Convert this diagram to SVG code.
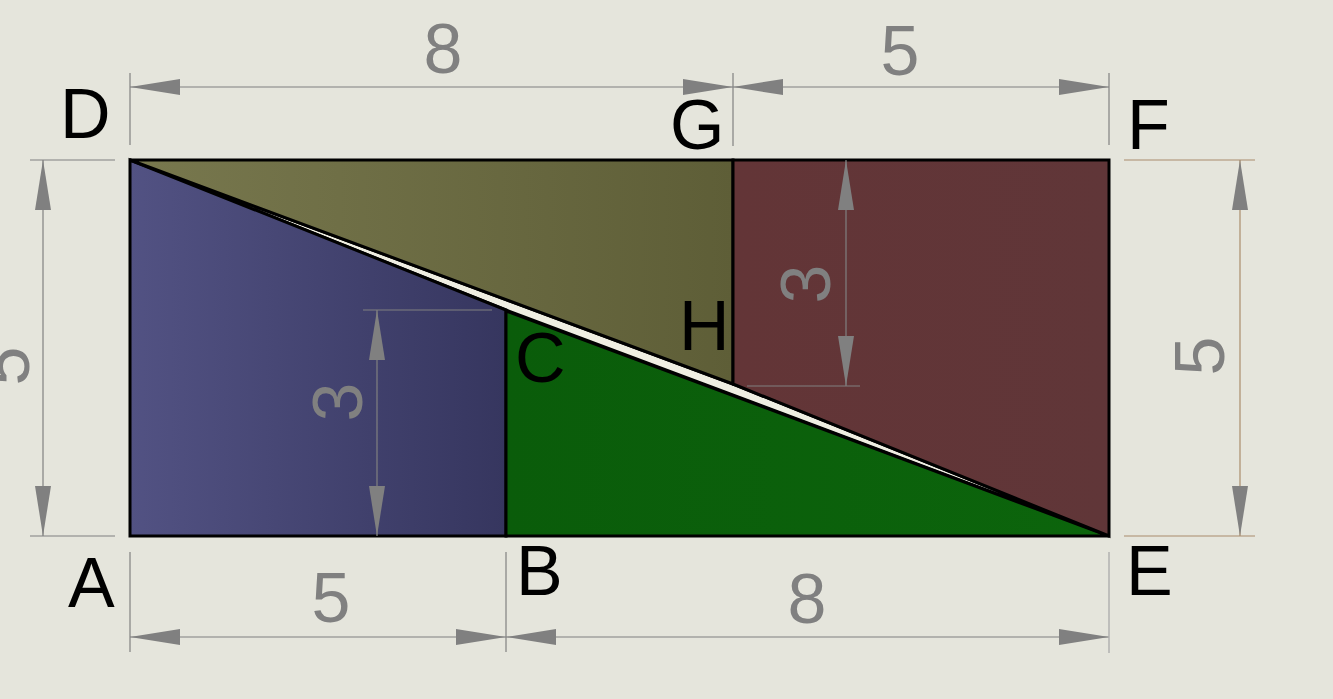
<svg xmlns="http://www.w3.org/2000/svg" width="1333" height="699" viewBox="0 0 1333 699">
<defs>
<linearGradient id="gBlue" x1="130" y1="0" x2="506" y2="0" gradientUnits="userSpaceOnUse"><stop offset="0" stop-color="#525283"/><stop offset="1" stop-color="#36365f"/></linearGradient>
<linearGradient id="gOlive" x1="130" y1="0" x2="733" y2="0" gradientUnits="userSpaceOnUse"><stop offset="0" stop-color="#78784e"/><stop offset="1" stop-color="#5e5e37"/></linearGradient>
<linearGradient id="gGreen" x1="506" y1="0" x2="1109" y2="0" gradientUnits="userSpaceOnUse"><stop offset="0" stop-color="#0a5c0a"/><stop offset="1" stop-color="#0c650c"/></linearGradient>
<linearGradient id="gRed" x1="733" y1="0" x2="1109" y2="0" gradientUnits="userSpaceOnUse"><stop offset="0" stop-color="#633537"/><stop offset="1" stop-color="#603638"/></linearGradient>
</defs>
<style>
.edge{stroke:#000;stroke-width:3;stroke-linejoin:miter}
.ext{stroke:#808080;stroke-width:1.2;fill:none}
.tan{stroke:#a98c6c;stroke-width:1.2;fill:none}
.ah{fill:#808080}
.lbl{font-family:"Liberation Sans",Arial,sans-serif;font-size:70px;fill:#000}
.num{font-family:"Liberation Sans",Arial,sans-serif;font-size:70px;fill:#808080;text-anchor:middle}
</style>
<rect width="1333" height="699" fill="#e5e5dc"/>

<g id="gap"><polygon points="130,160 733,384 1109,536 506,310" fill="#efeee2" class="edge"/></g>
<g id="blue"><polygon points="130,160 506,310 506,536 130,536" fill="url(#gBlue)" class="edge"/></g>
<g id="green"><polygon points="506,311 1109,536 506,536" fill="url(#gGreen)" class="edge"/></g>
<g id="olive"><polygon points="130,160 733,160 733,384" fill="url(#gOlive)" class="edge"/></g>
<g id="red"><polygon points="733,160 1109,160 1109,536 733,384" fill="url(#gRed)" class="edge"/></g>

<g id="dimensions">
<!-- top -->
<line class="ext" x1="130" y1="87" x2="1109" y2="87"/>
<line class="ext" x1="130" y1="73" x2="130" y2="145"/>
<line class="ext" x1="733" y1="73" x2="733" y2="146"/>
<line class="ext" x1="1109" y1="73" x2="1109" y2="145"/>
<polygon class="ah" points="130,87 180,79 180,95"/>
<polygon class="ah" points="733,87 683,79 683,95"/>
<polygon class="ah" points="733,87 783,79 783,95"/>
<polygon class="ah" points="1109,87 1059,79 1059,95"/>
<!-- bottom -->
<line class="ext" x1="130" y1="637" x2="1109" y2="637"/>
<line class="ext" x1="130" y1="552" x2="130" y2="652"/>
<line class="ext" x1="506" y1="552" x2="506" y2="652"/>
<line stroke="#b0b0b0" stroke-width="1.5" x1="1109" y1="552" x2="1109" y2="653"/>
<polygon class="ah" points="130,637 180,629 180,645"/>
<polygon class="ah" points="506,637 456,629 456,645"/>
<polygon class="ah" points="506,637 556,629 556,645"/>
<polygon class="ah" points="1109,637 1059,629 1059,645"/>
<!-- left -->
<line class="ext" x1="43" y1="160" x2="43" y2="536"/>
<line class="ext" x1="30" y1="160" x2="115" y2="160"/>
<line class="ext" x1="30" y1="536" x2="115" y2="536"/>
<polygon class="ah" points="43,160 35,210 51,210"/>
<polygon class="ah" points="43,536 35,486 51,486"/>
<!-- right -->
<line class="tan" x1="1240" y1="160" x2="1240" y2="536"/>
<line class="tan" x1="1124" y1="160" x2="1255" y2="160"/>
<line class="tan" x1="1124" y1="536" x2="1255" y2="536"/>
<polygon class="ah" points="1240,160 1232,210 1248,210"/>
<polygon class="ah" points="1240,536 1232,486 1248,486"/>
<!-- blue 3 -->
<line class="ext" x1="377" y1="310" x2="377" y2="536"/>
<line class="ext" x1="363" y1="310" x2="492" y2="310"/>
<polygon class="ah" points="377,310 369,360 385,360"/>
<polygon class="ah" points="377,536 369,486 385,486"/>
<!-- red 3 -->
<line class="ext" x1="846" y1="160" x2="846" y2="386"/>
<line class="ext" x1="747" y1="386" x2="860" y2="386"/>
<polygon class="ah" points="846,160 838,210 854,210"/>
<polygon class="ah" points="846,386 838,336 854,336"/>
<!-- numbers -->
<text class="num" x="443" y="73">8</text>
<text class="num" x="900" y="75">5</text>
<text class="num" x="331" y="622">5</text>
<text class="num" x="807" y="623">8</text>
<text class="num" transform="translate(4,366) rotate(-90)" x="0" y="25">5</text>
<text class="num" transform="translate(1199,356) rotate(-90)" x="0" y="25">5</text>
<text class="num" transform="translate(337,402) rotate(-90)" x="0" y="25">3</text>
<text class="num" transform="translate(805,284) rotate(-90)" x="0" y="25">3</text>
</g>

<g id="labels">
<text class="lbl" x="60" y="138">D</text>
<text class="lbl" x="670" y="149">G</text>
<text class="lbl" x="1127" y="149">F</text>
<text class="lbl" x="679" y="350">H</text>
<text class="lbl" x="515" y="382">C</text>
<text class="lbl" x="68" y="607">A</text>
<text class="lbl" x="516" y="595">B</text>
<text class="lbl" x="1126" y="595">E</text>
</g>
</svg>
